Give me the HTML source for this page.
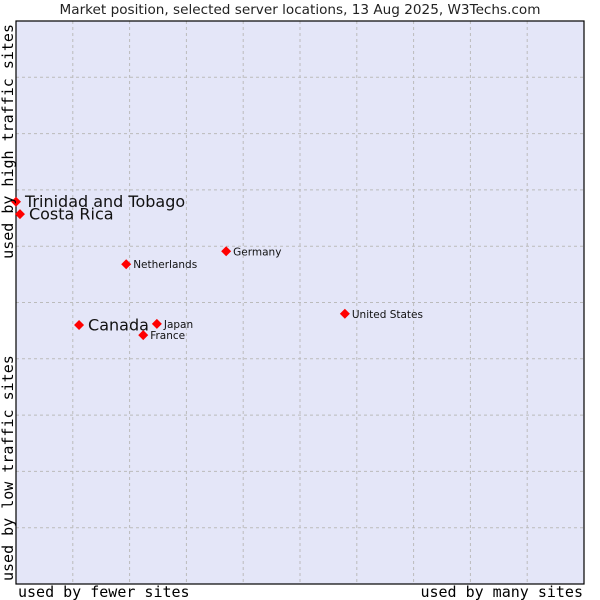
<!DOCTYPE html>
<html><head><meta charset="utf-8"><style>
body{margin:0;background:#fff;}
svg{display:block;font-family:"DejaVu Sans",sans-serif;}
</style></head><body>
<svg id="chart" width="600" height="600" viewBox="0 0 600 600" xmlns="http://www.w3.org/2000/svg">
<text x="300" y="14" text-anchor="middle" font-size="13.6" fill="#222">Market position, selected server locations, 13 Aug 2025, W3Techs.com</text>
<rect x="16" y="21" width="568" height="563" fill="#e4e6f8" stroke="none"/>
<g id="grid"></g>
<rect x="16" y="21" width="568" height="563" fill="none" stroke="#000" stroke-width="1.2"/>
<g id="points"></g>
<text x="18" y="597" font-family="DejaVu Sans Mono, monospace" font-size="15" fill="#000">used by fewer sites</text>
<text x="583" y="597" text-anchor="end" font-family="DejaVu Sans Mono, monospace" font-size="15" fill="#000">used by many sites</text>
<text transform="translate(13,24) rotate(-90)" text-anchor="end" font-family="DejaVu Sans Mono, monospace" font-size="15" fill="#000">used by high traffic sites</text>
<text transform="translate(13,581) rotate(-90)" font-family="DejaVu Sans Mono, monospace" font-size="15" fill="#000">used by low traffic sites</text>
</svg>
<script>
const names = ["Trinidad and Tobago","Costa Rica","Netherlands","Germany","United States","Canada","Japan","France"];
const xValues = [0, 0.7, 19.4, 37.0, 57.9, 11.1, 24.8, 22.4];
const yValues = [67.9, 65.7, 56.8, 59.1, 48.0, 46.0, 46.2, 44.2];
const bigLabel = [true, true, false, false, false, true, false, false];
const gridTicks = [10,20,30,40,50,60,70,80,90];
const NS = "http://www.w3.org/2000/svg";
const L=16,R=584,T=21,B=584;
const xs = v => L + (R-L)*v/100;
const ys = v => B - (B-T)*v/100;
const grid = document.getElementById('grid');
gridTicks.forEach(t=>{
  const v=document.createElementNS(NS,'line');
  
  
  v.setAttribute('x1',xs(t));v.setAttribute('x2',xs(t));v.setAttribute('y1',T);v.setAttribute('y2',B);
  v.setAttribute('stroke','#bbb');v.setAttribute('stroke-dasharray','3,3');
  grid.appendChild(v);
  const h=document.createElementNS(NS,'line');
  
  
  h.setAttribute('x1',L);h.setAttribute('x2',R);h.setAttribute('y1',ys(t));h.setAttribute('y2',ys(t));
  h.setAttribute('stroke','#bbb');h.setAttribute('stroke-dasharray','3,3');
  grid.appendChild(h);
});
const pts=document.getElementById('points');
names.forEach((n,i)=>{
  const x=xs(xValues[i]), y=ys(yValues[i]);
  const d=document.createElementNS(NS,'path');
  
  
  d.setAttribute('d',`M${x} ${y-5}L${x+5} ${y}L${x} ${y+5}L${x-5} ${y}Z`);
  d.setAttribute('fill','#f00');
  pts.appendChild(d);
  const t=document.createElementNS(NS,'text');
  
  
  const big=bigLabel[i];
  t.setAttribute('x',x+(big?9:7));
  t.setAttribute('y',y+(big?5.5:4));
  t.setAttribute('font-size',big?16:10.5);
  t.setAttribute('fill','#111');
  t.textContent=n;
  pts.appendChild(t);
});
</script>
</body></html>
